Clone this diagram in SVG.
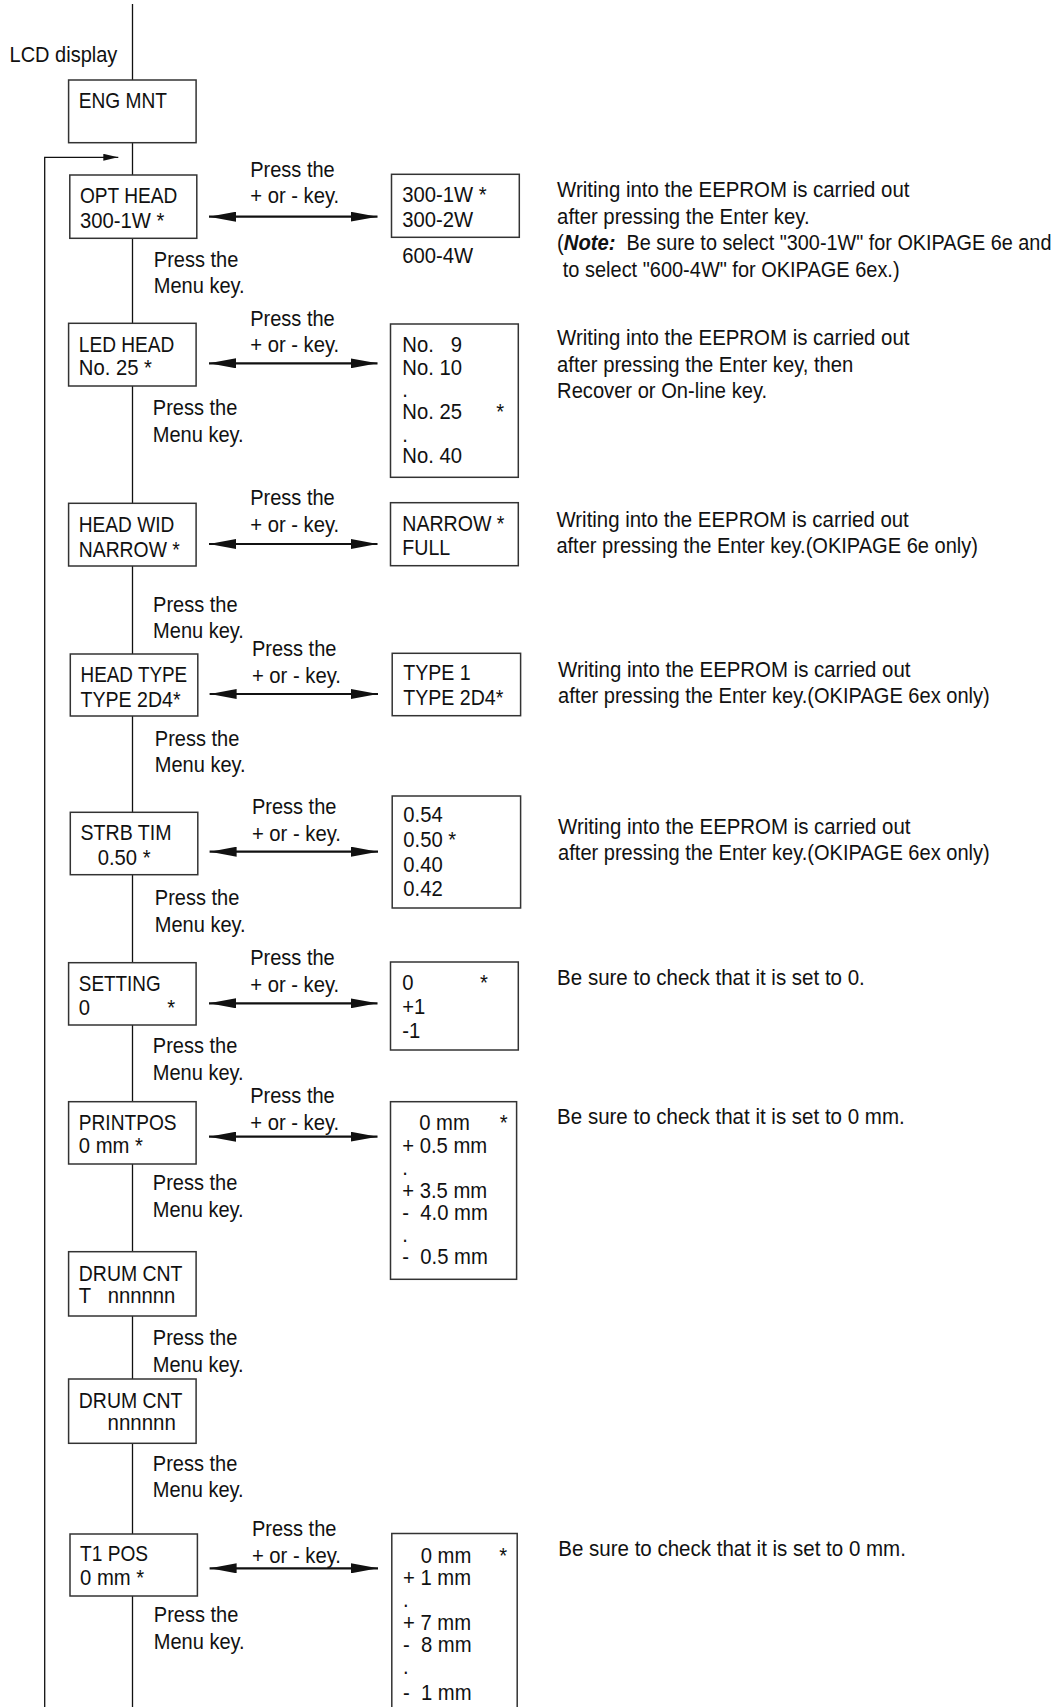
<svg xmlns="http://www.w3.org/2000/svg" width="1061" height="1707" viewBox="0 0 1061 1707">
<style>
.t{font-family:"Liberation Sans",Arial,Helvetica,sans-serif;font-size:22.5px;fill:#111}
.bi{font-weight:bold;font-style:italic}
.box{fill:#fff;stroke:#333;stroke-width:1.5}
.ln{fill:none;stroke:#111;stroke-width:1.3}
.dbl{fill:none;stroke:#111;stroke-width:2.2;marker-start:url(#ah);marker-end:url(#ah)}
</style>
<defs>
<marker id="ah" viewBox="0 0 27 10" refX="27" refY="5" markerWidth="27" markerHeight="10" markerUnits="userSpaceOnUse" orient="auto-start-reverse"><path d="M0,0 L27,5 L0,10 z" fill="#111"/></marker>
<marker id="sh" viewBox="0 0 15 7" refX="15" refY="3.5" markerWidth="15" markerHeight="7" markerUnits="userSpaceOnUse" orient="auto"><path d="M0,0 L15,3.5 L0,7 z" fill="#111"/></marker>
</defs>
<rect width="1061" height="1707" fill="#fff"/>

<g id="connectors">
<line class="ln" x1="132.5" y1="4" x2="132.5" y2="1707"/>
<polyline class="ln" points="44.7,1707 44.7,157.3 118.3,157.3" marker-end="url(#sh)"/>
<line class="dbl" x1="209" y1="216.7" x2="377.5" y2="216.7"/>
<line class="dbl" x1="209" y1="363.3" x2="377.5" y2="363.3"/>
<line class="dbl" x1="209" y1="544" x2="377.5" y2="544"/>
<line class="dbl" x1="209.6" y1="694" x2="378" y2="694"/>
<line class="dbl" x1="209.6" y1="851.7" x2="378" y2="851.7"/>
<line class="dbl" x1="209" y1="1003.3" x2="377.5" y2="1003.3"/>
<line class="dbl" x1="209" y1="1136.7" x2="377.5" y2="1136.7"/>
<line class="dbl" x1="209.6" y1="1568.3" x2="378" y2="1568.3"/>
<text class="t" transform="translate(9.5 61.7) scale(.89 1)">LCD display</text>
</g>

<g id="labels">
<text class="t" transform="translate(250.2 177.3) scale(.89 1)">Press the</text>
<text class="t" transform="translate(250.2 203.3) scale(.9 1)">+ or - key.</text>
<text class="t" transform="translate(153.8 266.7) scale(.89 1)">Press the</text>
<text class="t" transform="translate(153.8 293.3) scale(.89 1)">Menu key.</text>
<text class="t" transform="translate(250.2 326) scale(.89 1)">Press the</text>
<text class="t" transform="translate(250.2 351.7) scale(.9 1)">+ or - key.</text>
<text class="t" transform="translate(152.8 415) scale(.89 1)">Press the</text>
<text class="t" transform="translate(152.8 441.7) scale(.89 1)">Menu key.</text>
<text class="t" transform="translate(250.2 505) scale(.89 1)">Press the</text>
<text class="t" transform="translate(250.2 531.7) scale(.9 1)">+ or - key.</text>
<text class="t" transform="translate(153.1 611.7) scale(.89 1)">Press the</text>
<text class="t" transform="translate(153.1 638.3) scale(.89 1)">Menu key.</text>
<text class="t" transform="translate(251.9 656) scale(.89 1)">Press the</text>
<text class="t" transform="translate(251.9 682.7) scale(.9 1)">+ or - key.</text>
<text class="t" transform="translate(154.8 745.7) scale(.89 1)">Press the</text>
<text class="t" transform="translate(154.8 771.7) scale(.89 1)">Menu key.</text>
<text class="t" transform="translate(251.9 814) scale(.89 1)">Press the</text>
<text class="t" transform="translate(251.9 840.7) scale(.9 1)">+ or - key.</text>
<text class="t" transform="translate(154.8 905) scale(.89 1)">Press the</text>
<text class="t" transform="translate(154.8 931.7) scale(.89 1)">Menu key.</text>
<text class="t" transform="translate(250.2 965) scale(.89 1)">Press the</text>
<text class="t" transform="translate(250.2 991.7) scale(.9 1)">+ or - key.</text>
<text class="t" transform="translate(152.8 1053.3) scale(.89 1)">Press the</text>
<text class="t" transform="translate(152.8 1080) scale(.89 1)">Menu key.</text>
<text class="t" transform="translate(250.2 1103.3) scale(.89 1)">Press the</text>
<text class="t" transform="translate(250.2 1130) scale(.9 1)">+ or - key.</text>
<text class="t" transform="translate(152.8 1190) scale(.89 1)">Press the</text>
<text class="t" transform="translate(152.8 1216.7) scale(.89 1)">Menu key.</text>
<text class="t" transform="translate(152.8 1345) scale(.89 1)">Press the</text>
<text class="t" transform="translate(152.8 1371.7) scale(.89 1)">Menu key.</text>
<text class="t" transform="translate(152.8 1470.7) scale(.89 1)">Press the</text>
<text class="t" transform="translate(152.8 1497.3) scale(.89 1)">Menu key.</text>
<text class="t" transform="translate(251.9 1536) scale(.89 1)">Press the</text>
<text class="t" transform="translate(251.9 1562.7) scale(.9 1)">+ or - key.</text>
<text class="t" transform="translate(153.8 1621.7) scale(.89 1)">Press the</text>
<text class="t" transform="translate(153.8 1649) scale(.89 1)">Menu key.</text>
</g>

<g id="node-eng-mnt">
<rect class="box" x="68.6" y="80" width="127.5" height="62.7"/>
<text class="t" transform="translate(78.8 108.3) scale(.85 1)">ENG MNT</text>
</g>

<g id="node-opt-head">
<rect class="box" x="69.8" y="175" width="127" height="63.3"/>
<text class="t" transform="translate(80 203.3) scale(.85 1)">OPT HEAD</text>
<text class="t" transform="translate(80 227.7) scale(.9 1)">300-1W *</text>
</g>
<g id="opt-head-values">
<rect class="box" x="391.5" y="174.3" width="127.8" height="63"/>
<text class="t" transform="translate(402.3 0) scale(.9 1)"><tspan x="0" y="202">300-1W *</tspan><tspan x="0" y="226.7">300-2W</tspan><tspan x="0" y="263.3">600-4W</tspan></text>
</g>
<g id="note-opt-head">
<text class="t" transform="translate(557.1 197.3) scale(.908 1)">Writing into the EEPROM is carried out</text>
<text class="t" transform="translate(557.1 224) scale(.903 1)">after pressing the Enter key.</text>
<text class="t" transform="translate(557.1 250) scale(.9 1)">(<tspan class="bi">Note:</tspan></text>
<text class="t" transform="translate(626.5 250) scale(.882 1)">Be sure to select "300-1W" for OKIPAGE 6e and</text>
<text class="t" transform="translate(562.8 276.7) scale(.888 1)">to select "600-4W" for OKIPAGE 6ex.)</text>
</g>

<g id="node-led-head">
<rect class="box" x="68.6" y="323.3" width="127.5" height="62.7"/>
<text class="t" transform="translate(78.8 351.7) scale(.85 1)">LED HEAD</text>
<text class="t" transform="translate(78.8 375) scale(.9 1)">No. 25 *</text>
</g>
<g id="led-head-values">
<rect class="box" x="390.5" y="324" width="127.8" height="153.3"/>
<text class="t" xml:space="preserve" transform="translate(402.3 0) scale(.9 1)"><tspan x="0" y="351.7">No.   9</tspan><tspan x="0" y="375">No. 10</tspan><tspan x="0" y="397">.</tspan><tspan x="0" y="419.3">No. 25</tspan><tspan x="104.4" y="419.3">*</tspan><tspan x="0" y="441.7">.</tspan><tspan x="0" y="463.3">No. 40</tspan></text>
</g>
<g id="note-led-head">
<text class="t" transform="translate(557.1 345) scale(.908 1)">Writing into the EEPROM is carried out</text>
<text class="t" transform="translate(557.1 371.7) scale(.899 1)">after pressing the Enter key, then</text>
<text class="t" transform="translate(557.1 398.3) scale(.895 1)">Recover or On-line key.</text>
</g>

<g id="node-head-wid">
<rect class="box" x="68.6" y="503.3" width="127.5" height="62.7"/>
<text class="t" transform="translate(78.8 531.7) scale(.85 1)">HEAD WID</text>
<text class="t" transform="translate(78.8 556.7) scale(.86 1)">NARROW *</text>
</g>
<g id="head-wid-values">
<rect class="box" x="390.5" y="502.7" width="127.8" height="63"/>
<text class="t" transform="translate(402.3 0) scale(.87 1)"><tspan x="0" y="530.7">NARROW *</tspan><tspan x="0" y="555">FULL</tspan></text>
</g>
<g id="note-head-wid">
<text class="t" transform="translate(556.4 526.7) scale(.908 1)">Writing into the EEPROM is carried out</text>
<text class="t" transform="translate(556.4 553.3) scale(.892 1)">after pressing the Enter key.(OKIPAGE 6e only)</text>
</g>

<g id="node-head-type">
<rect class="box" x="70.3" y="654" width="127.5" height="62"/>
<text class="t" transform="translate(80.5 681.7) scale(.84 1)">HEAD TYPE</text>
<text class="t" transform="translate(80.5 706.7) scale(.87 1)">TYPE 2D4*</text>
</g>
<g id="head-type-values">
<rect class="box" x="392.2" y="653.3" width="128.4" height="62.4"/>
<text class="t" transform="translate(403.3 0) scale(.87 1)"><tspan x="0" y="680">TYPE 1</tspan><tspan x="0" y="705">TYPE 2D4*</tspan></text>
</g>
<g id="note-head-type">
<text class="t" transform="translate(558.1 676.7) scale(.908 1)">Writing into the EEPROM is carried out</text>
<text class="t" transform="translate(558.1 702.7) scale(.892 1)">after pressing the Enter key.(OKIPAGE 6ex only)</text>
</g>

<g id="node-strb-tim">
<rect class="box" x="70.3" y="812.3" width="127.5" height="62.4"/>
<text class="t" transform="translate(80.5 840) scale(.87 1)">STRB TIM</text>
<text class="t" transform="translate(97.7 865) scale(.9 1)">0.50 *</text>
</g>
<g id="strb-tim-values">
<rect class="box" x="392.2" y="796" width="128.4" height="112"/>
<text class="t" transform="translate(403.3 0) scale(.9 1)"><tspan x="0" y="821.7">0.54</tspan><tspan x="0" y="846.7">0.50 *</tspan><tspan x="0" y="871.7">0.40</tspan><tspan x="0" y="896">0.42</tspan></text>
</g>
<g id="note-strb-tim">
<text class="t" transform="translate(558.1 834) scale(.908 1)">Writing into the EEPROM is carried out</text>
<text class="t" transform="translate(558.1 860) scale(.892 1)">after pressing the Enter key.(OKIPAGE 6ex only)</text>
</g>

<g id="node-setting">
<rect class="box" x="68.6" y="962.7" width="127.5" height="62.3"/>
<text class="t" transform="translate(78.8 990.7) scale(.84 1)">SETTING</text>
<text class="t" transform="translate(78.8 1015) scale(.9 1)">0<tspan x="98.3">*</tspan></text>
</g>
<g id="setting-values">
<rect class="box" x="390.5" y="962" width="127.8" height="88"/>
<text class="t" transform="translate(402.3 0) scale(.9 1)"><tspan x="0" y="990">0</tspan><tspan x="86.3" y="990">*</tspan><tspan x="0" y="1014.3">+1</tspan><tspan x="0" y="1037.7">-1</tspan></text>
</g>
<g id="note-setting">
<text class="t" transform="translate(557.1 985) scale(.912 1)">Be sure to check that it is set to 0.</text>
</g>

<g id="node-printpos">
<rect class="box" x="68.6" y="1101.7" width="127.5" height="62.3"/>
<text class="t" transform="translate(78.8 1130) scale(.85 1)">PRINTPOS</text>
<text class="t" transform="translate(78.8 1153.3) scale(.9 1)">0 mm *</text>
</g>
<g id="printpos-values">
<rect class="box" x="390.5" y="1101.7" width="126.1" height="177.6"/>
<text class="t" xml:space="preserve" transform="translate(402.3 0) scale(.9 1)"><tspan x="18.8" y="1130">0 mm</tspan><tspan x="108.2" y="1130">*</tspan><tspan x="0" y="1153.3">+ 0.5 mm</tspan><tspan x="0" y="1175">.</tspan><tspan x="0" y="1197.7">+ 3.5 mm</tspan><tspan x="0" y="1220">-  4.0 mm</tspan><tspan x="0" y="1241.7">.</tspan><tspan x="0" y="1264">-  0.5 mm</tspan></text>
</g>
<g id="note-printpos">
<text class="t" transform="translate(557.1 1124) scale(.912 1)">Be sure to check that it is set to 0 mm.</text>
</g>

<g id="node-drum-cnt-t">
<rect class="box" x="68.6" y="1251.7" width="127.5" height="64.3"/>
<text class="t" transform="translate(78.8 1280.7) scale(.865 1)">DRUM CNT</text>
<text class="t" xml:space="preserve" transform="translate(78.8 1303.3) scale(.9 1)">T   nnnnnn</text>
</g>

<g id="node-drum-cnt">
<rect class="box" x="68.6" y="1379" width="127.5" height="64.3"/>
<text class="t" transform="translate(78.8 1408.3) scale(.865 1)">DRUM CNT</text>
<text class="t" transform="translate(107.5 1430) scale(.91 1)">nnnnnn</text>
</g>

<g id="node-t1-pos">
<rect class="box" x="70" y="1534" width="127.4" height="62"/>
<text class="t" transform="translate(80.1 1560.7) scale(.85 1)">T1 POS</text>
<text class="t" transform="translate(80.1 1585) scale(.9 1)">0 mm *</text>
</g>
<g id="t1-pos-values">
<path class="box" d="M391.8,1712 V1533.5 H517.2 V1712"/>
<text class="t" xml:space="preserve" transform="translate(403 0) scale(.9 1)"><tspan x="19.7" y="1563.3">0 mm</tspan><tspan x="107" y="1563.3">*</tspan><tspan x="0" y="1585">+ 1 mm</tspan><tspan x="0" y="1607">.</tspan><tspan x="0" y="1630">+ 7 mm</tspan><tspan x="0" y="1651.7">-  8 mm</tspan><tspan x="0" y="1674">.</tspan><tspan x="0" y="1700">-  1 mm</tspan></text>
</g>
<g id="note-t1-pos">
<text class="t" transform="translate(558.3 1556) scale(.912 1)">Be sure to check that it is set to 0 mm.</text>
</g>
</svg>
